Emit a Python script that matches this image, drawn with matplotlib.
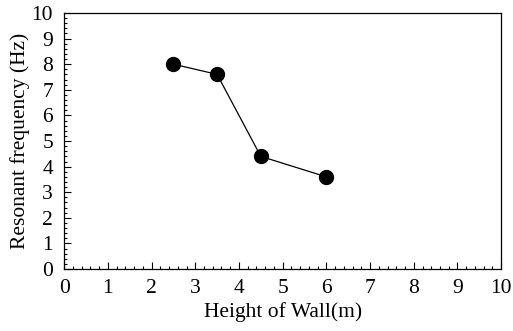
import matplotlib
matplotlib.use('Agg')
import matplotlib.pyplot as plt
from matplotlib.ticker import MultipleLocator

plt.rcParams['font.family'] = 'Liberation Serif'

height = [2.5, 3.5, 4.5, 6.0]
freq = [8.0, 7.6, 4.4, 3.6]

fig = plt.figure(figsize=(5.13, 3.31), dpi=100)
ax = fig.add_axes([0.125, 0.187, 0.852, 0.774])

ax.plot(height, freq, 'o-', color='black', lw=0.9, ms=10)

ax.set_xlim(0, 10)
ax.set_ylim(0, 10)
ax.xaxis.set_major_locator(MultipleLocator(1))
ax.yaxis.set_major_locator(MultipleLocator(1))
ax.xaxis.set_minor_locator(MultipleLocator(0.2))
ax.yaxis.set_minor_locator(MultipleLocator(0.2))
ax.tick_params(which='both', direction='in', top=False, right=False, labelsize=15.5, width=0.8)
ax.tick_params(axis='y', which='major', length=5, pad=8)
ax.tick_params(axis='x', which='major', length=5, pad=7)
ax.tick_params(which='minor', length=2.5)
for s in ax.spines.values():
    s.set_linewidth(0.9)

ax.set_xlabel('Height of Wall(m)', fontsize=15.5, labelpad=3)
ax.set_ylabel('Resonant frequency (Hz)', fontsize=15.5, labelpad=1)

fig.savefig('out.png', dpi=100)
